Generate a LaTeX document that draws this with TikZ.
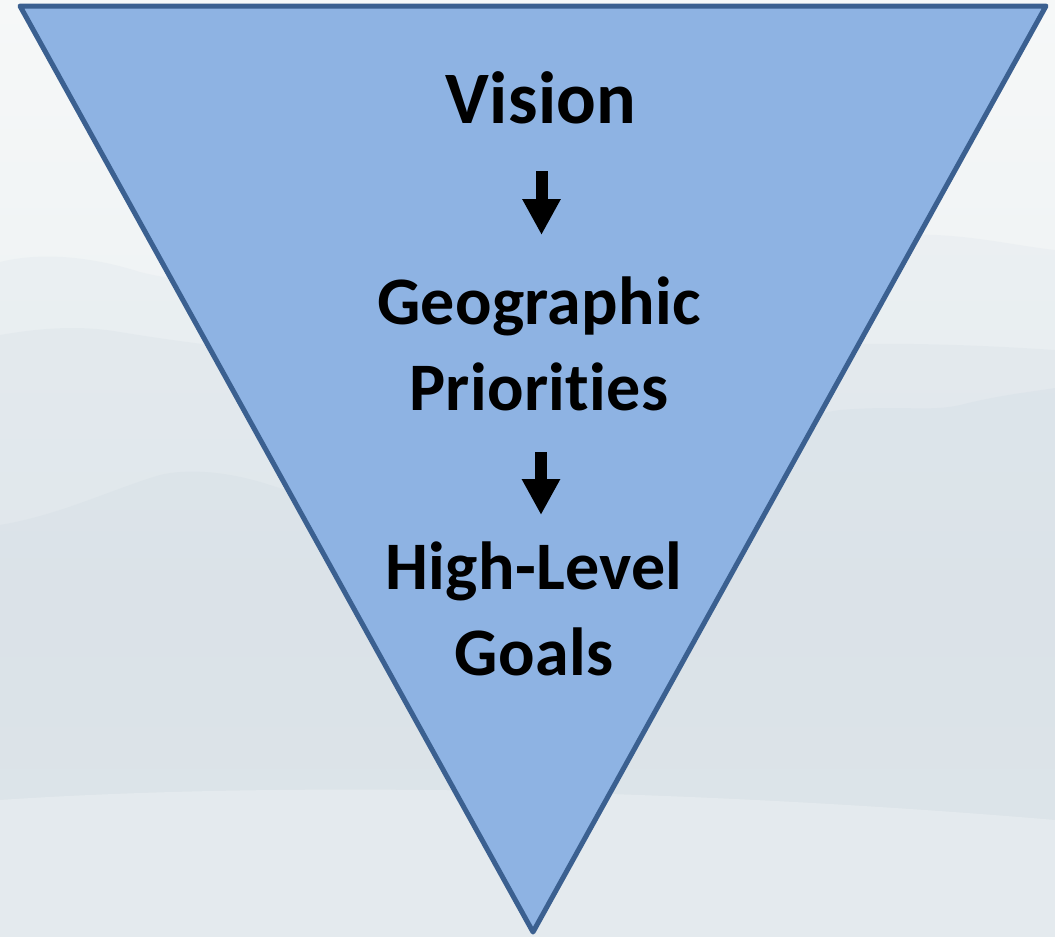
\documentclass[tikz,border=0pt]{standalone}
\usepackage{fontspec}
\setmainfont{Carlito}[Ligatures=NoCommon, LetterSpace=0.5]
\usetikzlibrary{arrows.meta}
\definecolor{trifill}{HTML}{8EB3E3}
\definecolor{triline}{HTML}{3B6090}
\definecolor{bgtop}{HTML}{F6F8F8}
\definecolor{bgmid}{HTML}{E9EEF1}
\definecolor{bgbot}{HTML}{EDF1F2}
\definecolor{mnt}{HTML}{D3DDE5}
\tikzset{
  lbl/.style={font=\fontsize{68}{86}\selectfont\bfseries, align=center, text=black, inner sep=0pt, anchor=base},
  biglbl/.style={lbl, font=\fontsize{74}{86}\selectfont\bfseries},
  blk/.style={line width=12pt, black, -{Triangle[width=36pt,length=36pt]}},
  tri/.style={fill=trifill, draw=triline, line width=5pt, line join=round},
}
\begin{document}
\begin{tikzpicture}[x=1pt,y=-1pt]
\useasboundingbox (0,0) rectangle (1055,937);
% background
\shade[top color=bgtop, bottom color=bgmid] (0,0) rectangle (1055,600);
\shade[top color=bgmid, bottom color=bgbot] (0,600) rectangle (1055,937);
\fill[mnt, opacity=0.18] (0,262) .. controls (40,252) and (90,256) .. (140,272) .. controls (220,292) and (320,282) .. (520,300) .. controls (700,300) and (800,240) .. (900,235) .. controls (960,232) and (1010,245) .. (1055,250) -- (1055,937) -- (0,937) -- cycle;
\fill[mnt, opacity=0.25] (0,335) .. controls (40,328) and (80,325) .. (120,332) .. controls (180,342) and (260,352) .. (360,360) .. controls (500,370) and (700,350) .. (820,345) .. controls (900,342) and (980,345) .. (1055,350) -- (1055,937) -- (0,937) -- cycle;
\fill[mnt, opacity=0.35] (0,525) .. controls (60,515) and (110,490) .. (160,475) .. controls (190,468) and (230,472) .. (270,485) .. controls (330,505) and (420,520) .. (520,520) .. controls (640,520) and (760,420) .. (840,410) .. controls (900,405) and (930,412) .. (960,405) .. controls (1000,395) and (1030,392) .. (1055,388) -- (1055,937) -- (0,937) -- cycle;
\fill[white, opacity=0.25] (0,800) .. controls (300,780) and (700,790) .. (1055,820) -- (1055,937) -- (0,937) -- cycle;
% triangle
\draw[tri] (20,6) -- (1046,6) -- (533,932) -- cycle;
% labels
\node[biglbl] (vision) at (541,123) {Vision};
\node[lbl] (geo) at (539,410) {Geographic\\Priorities};
\node[lbl] (goals) at (534,675) {High-Level\\Goals};
% arrows
\coordinate (a1s) at (541.5,171);
\coordinate (a1e) at (541.5,235);
\coordinate (a2s) at (541,452);
\coordinate (a2e) at (541,515);
\draw[blk] (a1s) -- (a1e);
\draw[blk] (a2s) -- (a2e);
\end{tikzpicture}
\end{document}
